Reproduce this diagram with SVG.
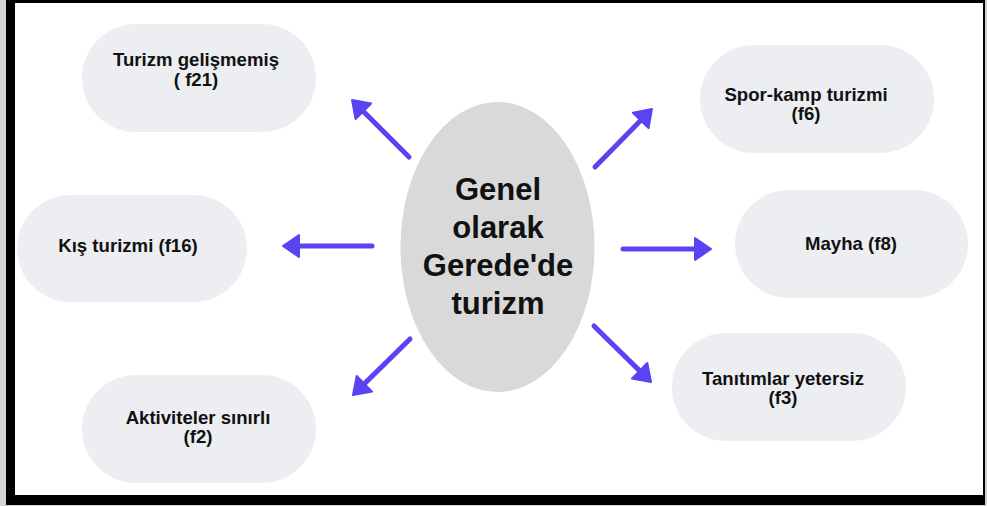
<svg xmlns="http://www.w3.org/2000/svg" width="987" height="506" viewBox="0 0 987 506">
<style>
.pill{fill:#eceef1}
.lbl{font-family:"Liberation Sans",Arial,sans-serif;font-weight:bold;font-size:18.6px;fill:#111;text-anchor:middle}
.big{font-family:"Liberation Sans",Arial,sans-serif;font-weight:bold;font-size:31px;fill:#111;text-anchor:middle}
.arr{stroke:#5a43f0;stroke-width:5;stroke-linecap:round;fill:none;marker-end:url(#ah)}
</style>
<defs>
<marker id="ah" markerUnits="userSpaceOnUse" viewBox="-2 -2 20 26" markerWidth="20" markerHeight="26" refX="8" refY="11" orient="auto" overflow="visible">
<path d="M0,0 L16,11 L0,22 z" fill="#5a43f0" stroke="#5a43f0" stroke-width="2" stroke-linejoin="round"/>
</marker>
</defs>
<rect x="0" y="0" width="987" height="506" fill="#d4d4d4"/>
<rect x="6" y="0" width="979" height="505" fill="#000"/>
<rect x="15" y="3" width="968" height="492" fill="#fff"/>
<g id="center">
<ellipse cx="497.5" cy="247" rx="97" ry="145" fill="#d9d9d9"/>
<text class="big" x="498" y="200">Genel</text>
<text class="big" x="498" y="238">olarak</text>
<text class="big" x="498" y="276">Gerede'de</text>
<text class="big" x="498" y="314">turizm</text>
</g>
<g id="n-f21">
<rect class="pill" x="82" y="24" width="234" height="108" rx="54"/>
<text class="lbl" x="196" y="65.5">Turizm gelişmemiş</text>
<text class="lbl" x="196" y="85.5">( f21)</text>
</g>
<g id="n-f16">
<rect class="pill" x="17" y="195" width="230" height="107" rx="53.5"/>
<text class="lbl" x="128" y="252">Kış turizmi (f16)</text>
</g>
<g id="n-f2">
<rect class="pill" x="82" y="375" width="234" height="108" rx="54"/>
<text class="lbl" x="198" y="424">Aktiviteler sınırlı</text>
<text class="lbl" x="198" y="443">(f2)</text>
</g>
<g id="n-f6">
<rect class="pill" x="700" y="45" width="234" height="108" rx="54"/>
<text class="lbl" x="806" y="101">Spor-kamp turizmi</text>
<text class="lbl" x="806" y="120">(f6)</text>
</g>
<g id="n-f8">
<rect class="pill" x="735" y="190" width="233" height="108" rx="54"/>
<text class="lbl" x="851" y="250">Mayha (f8)</text>
</g>
<g id="n-f3">
<rect class="pill" x="672" y="333" width="234" height="108" rx="54"/>
<text class="lbl" x="783" y="385">Tanıtımlar yetersiz</text>
<text class="lbl" x="783" y="404">(f3)</text>
</g>
<g id="connectors">
<line class="arr" x1="409" y1="157" x2="357.7" y2="105.7"/>
<line class="arr" x1="372" y1="246" x2="291" y2="246"/>
<line class="arr" x1="410" y1="339" x2="358.7" y2="389.4"/>
<line class="arr" x1="595" y1="167" x2="646.3" y2="114.7"/>
<line class="arr" x1="623" y1="249" x2="703" y2="249"/>
<line class="arr" x1="594" y1="326" x2="645.3" y2="376.4"/>
</g>
</svg>
